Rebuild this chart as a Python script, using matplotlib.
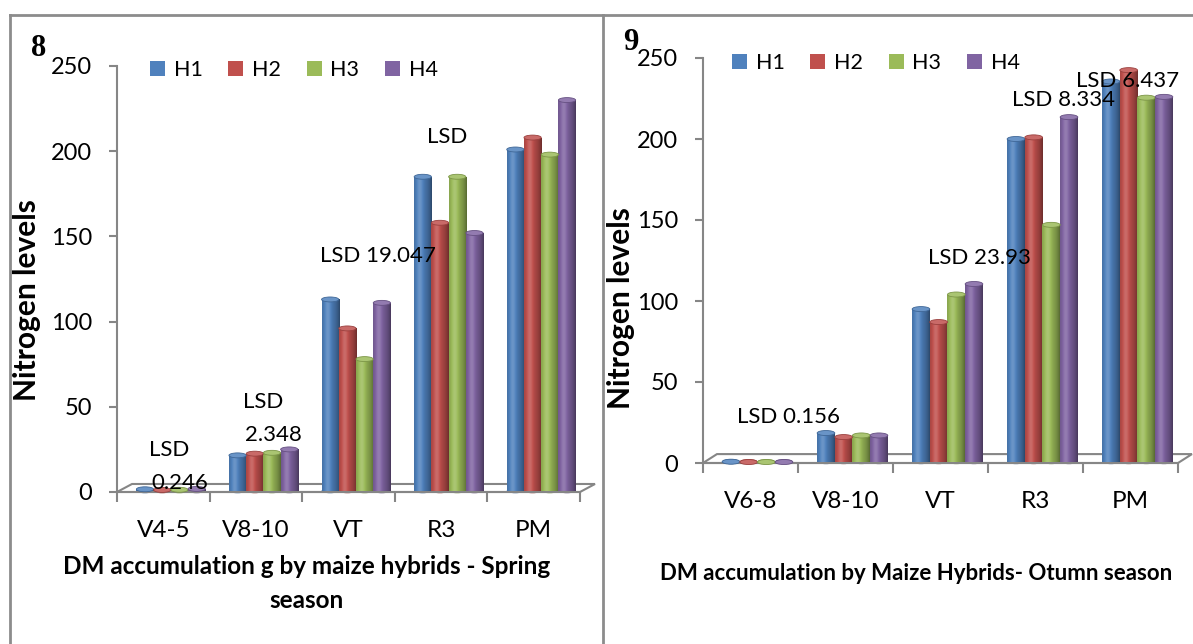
import matplotlib
matplotlib.use('Agg')

from matplotlib import pyplot as plt
from matplotlib.patches import Ellipse, Patch, Polygon
from matplotlib.lines import Line2D
import numpy as np

plt.rcParams['font.family'] = ['Lato', 'DejaVu Sans']

# Hybrid names and colours
hybrids = ['H1', 'H2', 'H3', 'H4']
colors = ['#4F81BD', '#C0504D', '#9BBB59', '#8064A2']

# Spring season (figure 8)
spring_stages = ['V4-5', 'V8-10', 'VT', 'R3', 'PM']
spring_h1 = [1.6, 21.5, 113, 185, 201]
spring_h2 = [1.2, 22.5, 96, 158, 208]
spring_h3 = [1.3, 23, 78, 185, 198]
spring_h4 = [1.8, 25, 111, 152, 230]
spring_lsd = [('LSD', 0.56, 24.6), ('0.246', 0.68, 5.3),
              ('LSD', 1.58, 52.8), ('2.348', 1.69, 33.4),
              ('LSD 19.047', 2.82, 138.7), ('LSD', 3.57, 208.5)]

# Autumn season (figure 9)
autumn_stages = ['V6-8', 'V8-10', 'VT', 'R3', 'PM']
autumn_h1 = [0.8, 18.5, 95, 200, 235.5]
autumn_h2 = [0.6, 16, 87, 201, 242.5]
autumn_h3 = [0.6, 17, 104, 147, 225.5]
autumn_h4 = [0.6, 17, 110.5, 213.5, 226]
autumn_lsd = [('LSD 0.156', 0.9, 28.6), ('LSD 23.93', 2.91, 126.4),
              ('LSD 8.334', 3.80, 224.2), ('LSD 6.437', 4.47, 236)]

W, H = 1193, 644
axis_gray = '#868686'


def fx(px):
    return px / W


def fy(py):
    return 1 - py / H


def shade(rgb, t):
    """ Cylinder-like horizontal shading profile """
    f = 0.86 + 0.3 * np.exp(-((t - 0.32) / 0.2) ** 2) - 0.3 * np.clip((t - 0.55) / 0.45, 0, 1) ** 2
    f = f[:, None]
    return np.clip(np.where(f >= 1, rgb + (1 - rgb) * (f - 1), rgb * f), 0, 1)


def draw_panel(ax, stages, series, lsd, depth_dx, depth_dy, ell_h):
    n = len(stages)
    bw = 0.186
    t = np.linspace(0, 1, 64)
    ax.add_patch(Polygon([(0, 0), (n, 0), (n + depth_dx, depth_dy), (depth_dx, depth_dy)],
                         closed=True, facecolor='white', edgecolor=axis_gray, lw=1.5,
                         clip_on=False, zorder=1))
    centers = np.arange(n) + 0.5 + depth_dx / 2
    base = depth_dy * 0.15
    for k, (vals, col) in enumerate(zip(series, colors)):
        rgb = np.array(matplotlib.colors.to_rgb(col))
        xs = centers + (k - 1.5) * bw
        bars = ax.bar(xs, np.array(vals) - base, bw, bottom=base, color=col,
                      linewidth=0, zorder=2, clip_on=False)
        img = shade(rgb, t)[None, :, :]
        for x, v, rect in zip(xs, vals, bars):
            im = ax.imshow(img, extent=[x - bw / 2, x + bw / 2, base, v], aspect='auto',
                           interpolation='bilinear', zorder=3)
            im.set_clip_path(rect)
            ax.add_patch(Ellipse((x, base), bw, ell_h, facecolor=rgb * 0.85, lw=0,
                                 zorder=2.5, clip_on=False))
            ax.add_patch(Ellipse((x, v), bw, ell_h, facecolor=rgb + (1 - rgb) * 0.15,
                                 edgecolor=rgb * 0.8, lw=0.6, zorder=4, clip_on=False))
    for txt, x, y in lsd:
        ax.text(x, y, txt, ha='center', va='center', fontsize=16, zorder=5)

    ax.set_xlim(0, n)
    ax.set_ylim(0, 250)
    ax.set_yticks([0, 50, 100, 150, 200, 250])
    ax.set_xticks(np.arange(n) + 0.5)
    ax.set_xticklabels(stages)
    ax.set_xticks(np.arange(n + 1), minor=True)
    ax.tick_params(axis='x', which='major', length=0, pad=20, labelsize=17.5)
    ax.tick_params(axis='x', which='minor', length=7, width=1.5, color=axis_gray, direction='out')
    ax.tick_params(axis='y', length=6, width=1.5, color=axis_gray, pad=12, labelsize=17)
    for side in ['top', 'right']:
        ax.spines[side].set_visible(False)
    for side in ['left', 'bottom']:
        ax.spines[side].set_color(axis_gray)
        ax.spines[side].set_linewidth(1.5)
    ax.set_facecolor('none')


fig = plt.figure(figsize=(W / 100, H / 100), dpi=100)

# Left panel (spring)
ax1 = fig.add_axes([fx(117), fy(492), fx(580 - 117), (492 - 66) / H])
draw_panel(ax1, spring_stages, [spring_h1, spring_h2, spring_h3, spring_h4], spring_lsd,
           0.162, 4.7, 2.9)

# Right panel (autumn)
ax2 = fig.add_axes([fx(703), fy(463), fx(1178 - 703), (463 - 58) / H])
draw_panel(ax2, autumn_stages, [autumn_h1, autumn_h2, autumn_h3, autumn_h4], autumn_lsd,
           0.147, 5.5, 3.1)

# Legends
handles = [Patch(facecolor=c, edgecolor='none') for c in colors]
for lx, ly in [(150, 70), (732, 63)]:
    fig.legend(handles, hybrids, loc='center left', bbox_to_anchor=(fx(lx), fy(ly)),
               ncol=4, frameon=False, fontsize=15.5, handlelength=0.7, handleheight=0.7,
               handletextpad=0.4, columnspacing=1.2, borderpad=0, borderaxespad=0)

# Axis titles
fig.text(fx(27), fy(300), 'Nitrogen levels', rotation=90, ha='center', va='center',
         fontsize=21.5, fontweight='bold')
fig.text(fx(621), fy(308), 'Nitrogen levels', rotation=90, ha='center', va='center',
         fontsize=21.5, fontweight='bold')
fig.text(fx(307), fy(567), 'DM accumulation g by maize hybrids - Spring', ha='center',
         va='center', fontsize=17.5, fontweight='bold')
fig.text(fx(306), fy(600), 'season', ha='center', va='center', fontsize=17.5, fontweight='bold')
fig.text(fx(916), fy(573), 'DM accumulation by Maize Hybrids- Otumn season', ha='center',
         va='center', fontsize=16, fontweight='bold')

# Figure numbers
fig.text(fx(38.5), fy(49), '8', ha='center', va='center', fontsize=22, fontweight='bold',
         family='Liberation Serif')
fig.text(fx(630.5), fy(42.5), '9', ha='center', va='center', fontsize=22, fontweight='bold',
         family='Liberation Serif')

# Frame lines
frame = dict(color='#8c8c8c', lw=2, transform=fig.transFigure)
fig.add_artist(Line2D([fx(10), 1], [fy(15), fy(15)], **frame))
fig.add_artist(Line2D([fx(10), fx(10)], [fy(15), 0], **frame))
fig.add_artist(Line2D([fx(603), fx(603)], [fy(15), 0], **frame))

fig.savefig('out.png', dpi=100)
